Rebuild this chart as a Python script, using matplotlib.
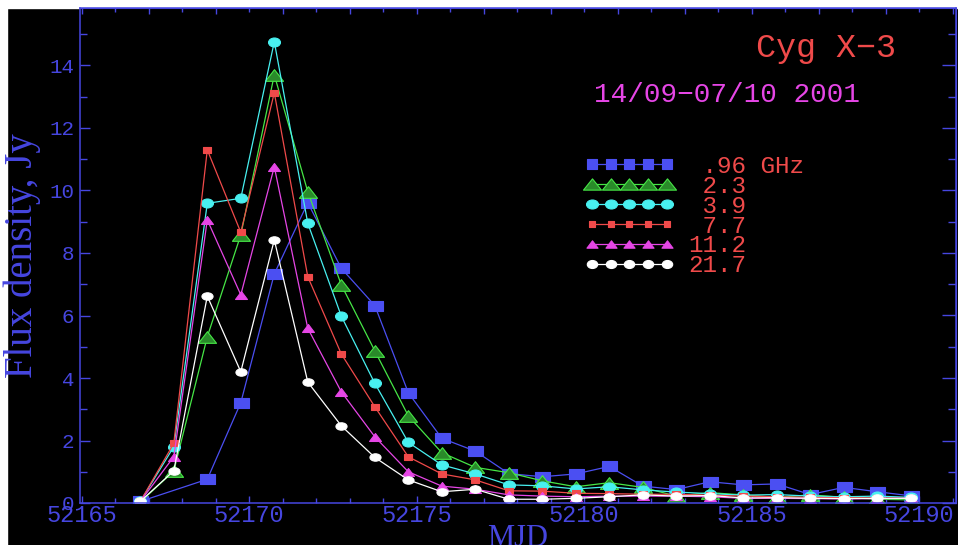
import numpy as np
import matplotlib
matplotlib.use("Agg")
from matplotlib import pyplot as plt
from matplotlib.path import Path
from matplotlib.lines import Line2D
from matplotlib.patches import Rectangle
from matplotlib.ticker import MultipleLocator, FixedLocator, NullFormatter
from matplotlib.transforms import Affine2D

# one scan per day
mjd = 52166.75 + np.arange(24)

labels = [' .96 GHz', ' 2.3', ' 3.9', ' 7.7', '11.2', '21.7']

flux_096 = [0.05, np.nan, 0.76, 3.21, 7.33, 9.61, 7.51, 6.32, 3.53, 2.07, 1.66, 0.94,
            0.84, 0.93, 1.17, 0.54, 0.43, 0.68, 0.58, 0.61, 0.27, 0.50, 0.36, 0.23]
flux_23 = [0.03, 1.02, 5.32, 8.58, 13.70, 9.96, 6.98, 4.87, 2.79, 1.61, 1.14, 0.97,
           0.71, 0.52, 0.65, 0.50, 0.22, 0.33, 0.26, 0.18, 0.26, 0.18, 0.12, 0.10]
flux_39 = [0.05, 1.80, 9.59, 9.75, 14.76, 8.95, 5.98, 3.83, 1.94, 1.22, 0.93, 0.58,
           0.55, 0.45, 0.52, 0.42, 0.35, 0.30, 0.25, 0.27, 0.22, 0.20, 0.22, 0.18]
flux_77 = [0.05, 1.91, 11.30, 8.66, 13.13, 7.24, 4.77, 3.08, 1.48, 0.93, 0.74, 0.39,
           0.38, 0.31, 0.30, 0.28, 0.28, 0.25, 0.22, 0.20, 0.18, 0.17, 0.16, 0.15]
flux_112 = [0.05, 1.48, 9.06, 6.66, 10.76, 5.59, 3.56, 2.12, 1.00, 0.54, 0.44, 0.26,
            0.22, 0.20, 0.22, 0.22, 0.22, 0.20, 0.15, 0.15, 0.14, 0.13, 0.14, 0.15]
flux_217 = [0.05, 1.03, 6.62, 4.20, 8.42, 3.87, 2.47, 1.46, 0.74, 0.36, 0.44, 0.12,
            0.12, 0.15, 0.20, 0.26, 0.22, 0.24, 0.16, 0.17, 0.15, 0.14, 0.15, 0.15]

AXIS = '#4646e0'
BLUE = '#4b4ff2'
GREEN = '#46e646'
CYAN = '#48f0f0'
RED = '#f04a4a'
MAGENTA = '#e646e6'
WHITE = '#ffffff'


def box(w, h):
    return Path([(-w, -h), (w, -h), (w, h), (-w, h), (-w, -h)], closed=True)


def tri(w, h):
    return Path([(-w, -h), (w, -h), (0, h), (-w, -h)], closed=True)


def oval(w, h):
    return Path.unit_circle().transformed(Affine2D().scale(w, h))


# (data, colour, marker, size, legend marker, legend size, face)
series = [
    (flux_096, BLUE, box(1.5, 1), 10.8, box(1, 1), 7.2, BLUE),
    (flux_23, GREEN, tri(1.55, 1), 13, tri(1.6, 1), 13, '#2a8a2a'),
    (flux_39, CYAN, oval(1.33, 1), 8.6, oval(1.33, 1), 8.6, CYAN),
    (flux_77, RED, box(1.33, 1), 5.8, box(1.2, 1), 5, RED),
    (flux_112, MAGENTA, tri(1.5, 1), 8.6, tri(1.5, 1), 8, MAGENTA),
    (flux_217, WHITE, oval(1.5, 1), 8, oval(1.3, 1), 7.5, WHITE),
]

fig = plt.figure(figsize=(9.58, 5.45), dpi=100, facecolor='black')
fig.patches.append(Rectangle((0, 1 - 8 / 545), 1, 8 / 545, transform=fig.transFigure,
                             color='white', zorder=-1))
fig.patches.append(Rectangle((0, 0), 7 / 958, 1, transform=fig.transFigure,
                             color='white', zorder=-1))

ax = fig.add_axes([80 / 958, 1 - 503 / 545, 876 / 958, 495 / 545])
ax.set_facecolor('black')

handles = []
for vals, col, mk, ms, lmk, lms, face in series:
    y = np.array(vals, dtype=float)
    ok = np.isfinite(y)
    ax.plot(mjd[ok], y[ok], '-', color=col, lw=0.9, marker=mk, ms=ms,
            mfc=face, mec=col, mew=0.8)
    handles.append(Line2D([], [], color=col, lw=0.9, marker=lmk, ms=lms,
                          mfc=face, mec=col, mew=0.8))

ax.set_xlim(52164.95, 52191.1)
ax.set_ylim(0, 15.84)

for s in ax.spines.values():
    s.set_color(AXIS)
    s.set_linewidth(1.1)

ax.xaxis.set_major_locator(MultipleLocator(5))
ax.xaxis.set_minor_locator(MultipleLocator(1))
ax.yaxis.set_major_locator(MultipleLocator(2))
ax.yaxis.set_minor_locator(MultipleLocator(1))
ax.xaxis.set_major_formatter(lambda v, p: '%d' % v)

ax.tick_params(axis='x', which='major', direction='in', length=5, width=1, colors=AXIS,
               labelsize=17, pad=1, top=False)
ax.tick_params(axis='x', which='minor', direction='in', length=3.5, width=1, colors=AXIS,
               top=False)
ax.tick_params(axis='y', which='major', direction='in', length=7, width=1, colors=AXIS,
               labelsize=15, pad=4, right=False)
ax.tick_params(axis='y', which='minor', direction='in', length=5, width=1, colors=AXIS,
               right=False)
for t in ax.get_xticklabels() + ax.get_yticklabels():
    t.set_fontfamily('Liberation Mono')

# top edge: long ticks on odd days
top = ax.secondary_xaxis('top')
top.xaxis.set_major_locator(FixedLocator(np.arange(52165, 52192, 2)))
top.xaxis.set_minor_locator(FixedLocator(np.arange(52166, 52192, 2)))
top.xaxis.set_major_formatter(NullFormatter())
top.tick_params(which='major', direction='in', length=4, width=1, colors=AXIS)
top.tick_params(which='minor', direction='in', length=2.6, width=1, colors=AXIS)
top.spines['top'].set_color(AXIS)

right = ax.secondary_yaxis('right')
right.yaxis.set_major_locator(MultipleLocator(2))
right.yaxis.set_minor_locator(MultipleLocator(1))
right.yaxis.set_major_formatter(NullFormatter())
right.tick_params(which='major', direction='in', length=10, width=1, colors=AXIS)
right.tick_params(which='minor', direction='in', length=5.5, width=1, colors=AXIS)
right.spines['right'].set_color(AXIS)

ax.set_xlabel('MJD', color=AXIS, fontsize=22, family='Liberation Serif')
ax.xaxis.set_label_coords(0.5, -0.042)
ax.set_ylabel('Flux density, Jy', color=AXIS, fontsize=28, family='Liberation Serif')
ax.yaxis.set_label_coords(-0.044, 0.5)

ax.text(0.8516, 0.901, 'Cyg X\u22123', color=RED, fontsize=24, family='Liberation Mono',
        ha='center', va='baseline', transform=ax.transAxes)
ax.text(0.7386, 0.8107, '14/09\u221207/10 2001', color=MAGENTA, fontsize=20,
        family='Liberation Mono', ha='center', va='baseline', transform=ax.transAxes)

leg = ax.legend(handles, labels, loc='upper left', bbox_to_anchor=(585 / 958, 1 - 155 / 545),
                bbox_transform=fig.transFigure, frameon=False, numpoints=5,
                handlelength=3.66, handletextpad=0.58, labelspacing=-0.13,
                borderpad=0, borderaxespad=0,
                prop={'family': 'Liberation Mono', 'size': 17.5})
for t in leg.get_texts():
    t.set_color(RED)

fig.savefig('out.png', dpi=100, facecolor=fig.get_facecolor())
